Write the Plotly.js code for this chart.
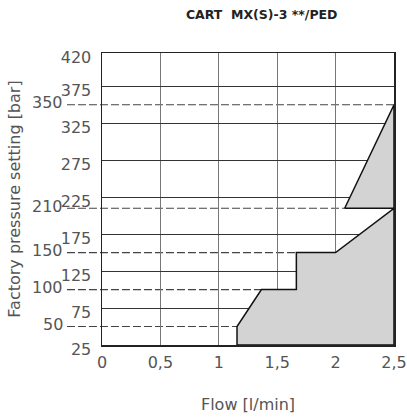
<!DOCTYPE html>
<html>
<head>
<meta charset="utf-8">
<script src="https://cdn.plot.ly/plotly-3.0.1.min.js"></script>
<style>html,body{margin:0;padding:0;background:#fff;}#chart{width:407px;height:419px;}</style>
</head>
<body>
<div id="chart"></div>
<script>
// ---- data ----
var xTickVals = [0, 0.5, 1, 1.5, 2, 2.5];
var xTickText = ['0', '0,5', '1', '1,5', '2', '2,5'];
var yTickVals = [25, 75, 125, 175, 225, 275, 325, 375, 420];
var yTickText = ['25', '75', '125', '175', '225', '275', '325', '375', '420'];
var dashedLevels = [50, 100, 150, 210, 350];
var dashedLabels = ['50', '100', '150', '210', '350'];
// lower operating area boundary (flow, pressure)
var lowerX = [1.156, 1.156, 1.365, 1.664, 1.664, 2.0, 2.5, 2.5, 1.156];
var lowerY = [25, 50, 100, 100, 150, 150, 210, 25, 25];
// upper operating area boundary
var upperX = [2.078, 2.5, 2.5, 2.078];
var upperY = [210, 350, 210, 210];

var fontFam = 'DejaVu Sans, Liberation Sans, sans-serif';
var txtColor = '#555';

var traces = [
  {x: lowerX, y: lowerY, type: 'scatter', mode: 'lines', fill: 'toself',
   fillcolor: '#d3d3d3', line: {color: '#111', width: 1.5}, hoverinfo: 'skip', showlegend: false},
  {x: upperX, y: upperY, type: 'scatter', mode: 'lines', fill: 'toself',
   fillcolor: '#d3d3d3', line: {color: '#111', width: 1.5}, hoverinfo: 'skip', showlegend: false}
];

var shapes = dashedLevels.map(function (v) {
  return {type: 'line', xref: 'paper', yref: 'y', x0: -0.12, x1: 1, y0: v, y1: v,
          layer: 'below', line: {color: '#444', width: 1.2, dash: '8px,3px'}};
});
var annotations = dashedLevels.map(function (v, i) {
  return {xref: 'paper', yref: 'y', x: 0, y: v, text: dashedLabels[i], showarrow: false,
          xanchor: 'right', yanchor: 'middle', xshift: -37, yshift: 2,
          font: {family: fontFam, size: 16, color: txtColor}};
});

var layout = {
  width: 407, height: 419,
  margin: {l: 102, r: 13, t: 53, b: 74},
  paper_bgcolor: '#fff', plot_bgcolor: '#fff',
  font: {family: fontFam, size: 16, color: txtColor},
  title: {text: 'CART  MX(S)-3 **/PED', x: 0.643, xanchor: 'center', y: 0.965, yanchor: 'middle',
          font: {family: 'DejaVu Sans, sans-serif', size: 12.5, color: '#222', weight: 'bold'}},
  xaxis: {
    range: [0, 2.5], tickvals: xTickVals, ticktext: xTickText,
    showgrid: true, gridcolor: '#777', gridwidth: 1, zeroline: false,
    showline: true, mirror: true, linecolor: '#222', linewidth: 1.5,
    ticks: '', ticklabelstandoff: 2,
    tickfont: {family: fontFam, size: 16, color: txtColor},
    title: {text: 'Flow [l/min]', standoff: 28, font: {family: fontFam, size: 16, color: txtColor}}
  },
  yaxis: {
    range: [25, 420], tickvals: yTickVals, ticktext: yTickText,
    showgrid: true, gridcolor: '#333', gridwidth: 1, zeroline: false,
    showline: true, mirror: true, linecolor: '#222', linewidth: 1.5,
    ticks: '', ticklabelstandoff: 6, ticklabelshift: 4,
    tickfont: {family: fontFam, size: 16, color: txtColor},
    title: {text: 'Factory pressure setting [bar]', standoff: 36, font: {family: fontFam, size: 16, color: txtColor}}
  },
  shapes: shapes,
  annotations: annotations
};

Plotly.newPlot('chart', traces, layout, {displayModeBar: false, staticPlot: true});
</script>
</body>
</html>
